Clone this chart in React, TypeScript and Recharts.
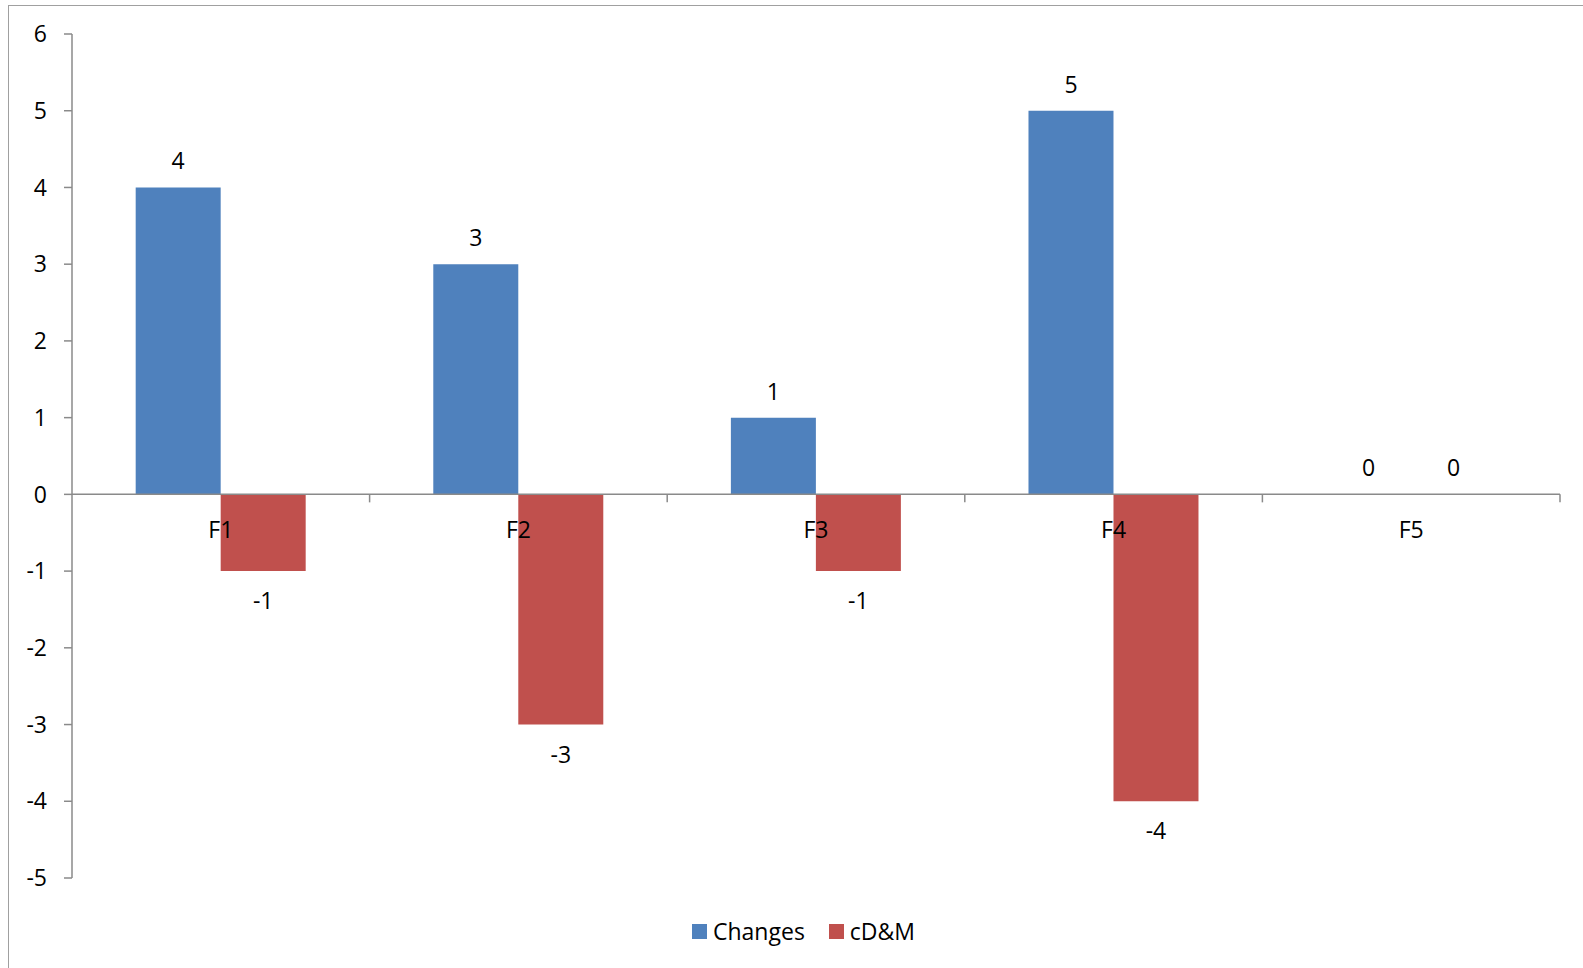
import React from 'react';
import { BarChart, Bar, XAxis, YAxis, ReferenceLine, LabelList } from 'recharts';

const categories = ['F1', 'F2', 'F3', 'F4', 'F5'];
const changes = [4, 3, 1, 5, 0];
const cdm = [-1, -3, -1, -4, 0];
const yTicks = [-5, -4, -3, -2, -1, 0, 1, 2, 3, 4, 5, 6];
const seriesNames = ['Changes', 'cD&M'];
const seriesColors = ['#4F81BD', '#C0504D'];

const FONT = '"Open Sans", "Noto Sans", sans-serif';
const AXIS_GRAY = '#8a8a8a';

const data = categories.map((name, i) => ({ name, changes: changes[i], cdm: cdm[i] }));

// zero-valued bars still need a rectangle so their "0" label gets drawn
const keepZero = (value: any) => (value === 0 ? 0.01 : 0);

// value labels sit outside the bar end: above for positive, below for negative
const renderValue = (props: any) => {
  const { x, y, width, height, value } = props;
  const top = Math.min(y, y + height);
  const bottom = Math.max(y, y + height);
  const ty = value < 0 ? bottom + 29 : top - 27;
  return (
    <text
      x={x + width / 2}
      y={ty}
      textAnchor="middle"
      dominantBaseline="central"
      fontSize={23}
      fontFamily={FONT}
      fill="#000"
    >
      {String(value)}
    </text>
  );
};

// horizontal axis crossing at zero, with category tick marks and names
const ZeroAxis = (props: any) => {
  const { x1, x2, y1 } = props;
  const step = (x2 - x1) / categories.length;
  return (
    <g>
      <line x1={x1} y1={y1} x2={x2} y2={y1} stroke={AXIS_GRAY} strokeWidth={1.5} />
      {categories.map((c, i) => (
        <g key={c}>
          <line
            x1={x1 + step * (i + 1)}
            x2={x1 + step * (i + 1)}
            y1={y1}
            y2={y1 + 8}
            stroke={AXIS_GRAY}
            strokeWidth={1.5}
          />
          <text
            x={x1 + step * (i + 0.5)}
            y={y1 + 35}
            textAnchor="middle"
            dominantBaseline="central"
            fontSize={23}
            fontFamily={FONT}
            fill="#000"
          >
            {c}
          </text>
        </g>
      ))}
    </g>
  );
};

export default function App() {
  return (
    <div style={{ position: 'relative', width: 1583, height: 968, background: '#fff' }}>
      <style>{'body{margin:0;overflow:hidden;}'}</style>
      <div
        style={{
          position: 'absolute',
          left: 8,
          top: 5,
          width: 1700,
          height: 1100,
          borderLeft: '1.5px solid #a0a0a0',
          borderTop: '1.5px solid #a0a0a0',
        }}
      />
      <div style={{ position: 'absolute', left: 0, top: 0 }}>
        <BarChart
          width={1583}
          height={968}
          data={data}
          margin={{ top: 34, right: 23, bottom: 90, left: 0 }}
          barCategoryGap="21.4%"
          barGap={0}
        >
          <XAxis dataKey="name" hide />
          <YAxis
            width={72}
            domain={[-5, 6]}
            ticks={yTicks}
            interval={0}
            tickSize={8}
            tickMargin={17}
            axisLine={{ stroke: AXIS_GRAY, strokeWidth: 1.5 }}
            tickLine={{ stroke: AXIS_GRAY, strokeWidth: 1.5 }}
            tick={{ fill: '#000', fontSize: 23, fontFamily: FONT }}
          />
          <Bar
            dataKey="changes"
            name={seriesNames[0]}
            fill={seriesColors[0]}
            minPointSize={keepZero}
            isAnimationActive={false}
          >
            <LabelList dataKey="changes" content={renderValue} />
          </Bar>
          <Bar
            dataKey="cdm"
            name={seriesNames[1]}
            fill={seriesColors[1]}
            minPointSize={keepZero}
            isAnimationActive={false}
          >
            <LabelList dataKey="cdm" content={renderValue} />
          </Bar>
          <ReferenceLine y={0} shape={ZeroAxis} />
        </BarChart>
      </div>
      <div
        style={{
          position: 'absolute',
          left: 692,
          top: 915,
          display: 'flex',
          alignItems: 'center',
          fontFamily: FONT,
          fontSize: 23,
          color: '#000',
        }}
      >
        {seriesNames.map((n, i) => (
          <div key={n} style={{ display: 'flex', alignItems: 'center', marginRight: i === 0 ? 24 : 0 }}>
            <span style={{ width: 15, height: 15, background: seriesColors[i], marginRight: 6 }} />
            <span>{n}</span>
          </div>
        ))}
      </div>
    </div>
  );
}
